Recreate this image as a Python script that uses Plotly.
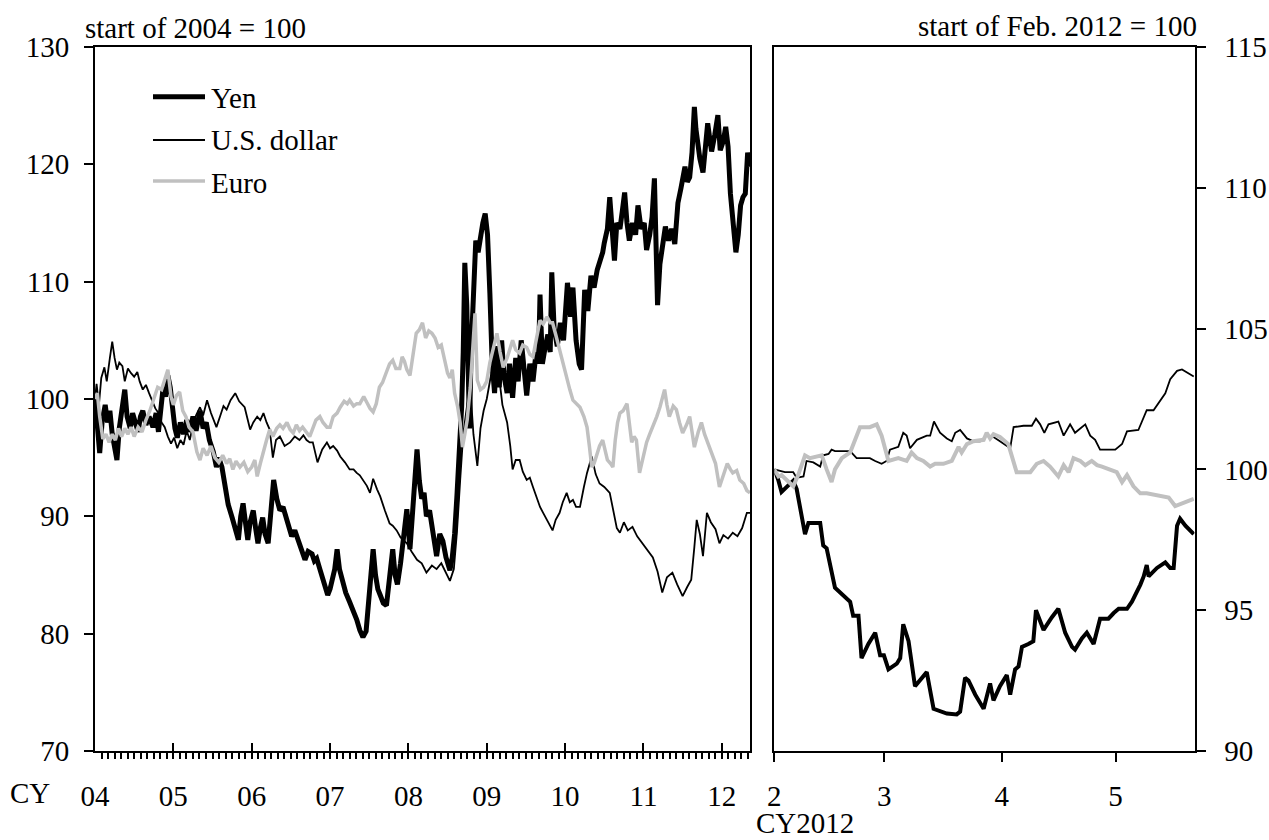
import plotly.graph_objects as go

# ---------------- data ----------------
# Left panel: x = calendar year (fractional), index: start of 2004 = 100
yen_left = [
    (2004.00, 100), (2004.03, 97.5), (2004.06, 95.4), (2004.09, 98), (2004.13, 99.5), (2004.16, 98),
    (2004.19, 99), (2004.22, 97), (2004.25, 96), (2004.28, 94.8), (2004.31, 97.5), (2004.35, 99.5),
    (2004.38, 100.8), (2004.41, 98.5), (2004.45, 97.5), (2004.48, 98.8), (2004.51, 98), (2004.55, 97.2),
    (2004.58, 98.5), (2004.61, 99), (2004.65, 97.8), (2004.69, 98.5), (2004.74, 97.6), (2004.78, 98.8),
    (2004.81, 97.2), (2004.84, 99.5), (2004.87, 101), (2004.90, 100.2), (2004.93, 102), (2004.96, 101),
    (2004.99, 99), (2005.02, 97.5), (2005.05, 96.7), (2005.09, 98), (2005.13, 97), (2005.17, 98.2),
    (2005.21, 97.2), (2005.25, 98.5), (2005.29, 97.3), (2005.34, 99), (2005.38, 97.5), (2005.42, 98),
    (2005.46, 96.5), (2005.51, 95.5), (2005.55, 94.2), (2005.58, 95), (2005.62, 94.2), (2005.66, 92.5),
    (2005.70, 91), (2005.75, 89.9), (2005.79, 89), (2005.83, 88), (2005.86, 90), (2005.89, 91.1),
    (2005.92, 89.5), (2005.95, 88), (2005.98, 89.5), (2006.02, 90.5), (2006.05, 89), (2006.08, 87.7),
    (2006.11, 89), (2006.14, 89.9), (2006.17, 88.5), (2006.21, 87.7), (2006.24, 90), (2006.28, 93.1),
    (2006.32, 91.5), (2006.36, 90.5), (2006.40, 90.8), (2006.45, 89.7), (2006.48, 89), (2006.51, 88.3),
    (2006.55, 88.8), (2006.59, 88), (2006.63, 87.5), (2006.68, 86.3), (2006.72, 87), (2006.77, 86.8),
    (2006.80, 86.2), (2006.83, 86.4), (2006.87, 85.5), (2006.91, 84.5), (2006.94, 83.8), (2006.97, 83.3),
    (2007.00, 83.8), (2007.03, 84.5), (2007.06, 85.5), (2007.09, 87.2), (2007.12, 85.5), (2007.16, 84.5),
    (2007.20, 83.5), (2007.25, 82.7), (2007.30, 82), (2007.34, 81.2), (2007.38, 80.3), (2007.42, 79.7),
    (2007.46, 80.2), (2007.49, 82.4), (2007.52, 84), (2007.55, 87.2), (2007.58, 85), (2007.61, 83.8),
    (2007.64, 83.3), (2007.68, 82.6), (2007.72, 82.4), (2007.76, 84.5), (2007.80, 87.2), (2007.83, 85),
    (2007.86, 84.2), (2007.90, 86), (2007.94, 88.5), (2007.98, 90.6), (2008.02, 87.2), (2008.06, 91),
    (2008.09, 93), (2008.11, 95.7), (2008.14, 93), (2008.17, 91.5), (2008.20, 92), (2008.23, 90),
    (2008.27, 90.5), (2008.30, 89.3), (2008.33, 88), (2008.36, 86.6), (2008.40, 88.5), (2008.44, 87.9),
    (2008.48, 86.5), (2008.53, 85.4), (2008.56, 86.5), (2008.59, 88.5), (2008.62, 91.8), (2008.66, 96),
    (2008.68, 99.4), (2008.70, 104), (2008.72, 111.6), (2008.745, 108), (2008.76, 103), (2008.78, 97.5),
    (2008.80, 104), (2008.83, 110), (2008.86, 113.5), (2008.89, 112.5), (2008.92, 114), (2008.95, 115),
    (2008.98, 115.8), (2009.01, 114), (2009.04, 109), (2009.07, 103), (2009.10, 100.5), (2009.13, 104.5),
    (2009.16, 101), (2009.19, 105), (2009.22, 102), (2009.26, 100.5), (2009.29, 103), (2009.33, 100.1),
    (2009.37, 103.5), (2009.40, 101.5), (2009.44, 105), (2009.48, 102), (2009.51, 100.3), (2009.55, 103),
    (2009.59, 101.5), (2009.63, 104), (2009.66, 103), (2009.68, 108.9), (2009.71, 103), (2009.74, 104.2),
    (2009.78, 105.5), (2009.81, 104), (2009.83, 110.8), (2009.86, 106), (2009.90, 104.5), (2009.94, 106.5),
    (2009.98, 105), (2010.03, 109.9), (2010.07, 107), (2010.10, 109.5), (2010.14, 105), (2010.18, 103),
    (2010.21, 102.5), (2010.25, 109.3), (2010.29, 107.5), (2010.33, 110.5), (2010.37, 109.5), (2010.41, 111),
    (2010.44, 111.6), (2010.48, 112.5), (2010.50, 113.3), (2010.54, 114.5), (2010.57, 117.2), (2010.60, 114),
    (2010.63, 111.8), (2010.66, 115), (2010.70, 114.5), (2010.73, 116), (2010.76, 117.6), (2010.79, 115),
    (2010.82, 113.5), (2010.86, 115), (2010.90, 114), (2010.93, 116.5), (2010.97, 114.5), (2011.01, 115),
    (2011.04, 112.7), (2011.08, 114), (2011.11, 115.5), (2011.14, 118.8), (2011.16, 113), (2011.18, 108),
    (2011.21, 111.5), (2011.24, 113), (2011.28, 114.7), (2011.32, 113.5), (2011.36, 114.5), (2011.40, 113.2),
    (2011.44, 116.7), (2011.48, 118), (2011.53, 119.8), (2011.56, 118.5), (2011.59, 118.9), (2011.62, 121),
    (2011.65, 124.9), (2011.67, 123), (2011.69, 121.8), (2011.72, 120.5), (2011.76, 119.3), (2011.79, 121.5),
    (2011.82, 123.5), (2011.85, 122), (2011.87, 121.1), (2011.91, 122.5), (2011.95, 124.2), (2011.98, 121.2),
    (2012.02, 122), (2012.05, 123.2), (2012.08, 121.5), (2012.11, 117.5), (2012.14, 115), (2012.18, 112.5),
    (2012.21, 114), (2012.24, 116.5), (2012.27, 117.2), (2012.30, 117.5), (2012.33, 121), (2012.36, 119.8),
]

usd_left = [
    (2004.00, 100), (2004.02, 101.3), (2004.05, 99.5), (2004.08, 101.8), (2004.12, 102.7), (2004.15, 101.5),
    (2004.19, 103.5), (2004.22, 104.9), (2004.25, 103.5), (2004.28, 102.5), (2004.31, 103.1), (2004.35, 102.8),
    (2004.38, 101.5), (2004.42, 102.6), (2004.46, 102.2), (2004.50, 101.9), (2004.54, 102.3), (2004.57, 101.5),
    (2004.61, 100.8), (2004.65, 101.2), (2004.69, 100.5), (2004.73, 99.9), (2004.77, 99.2), (2004.81, 98.8),
    (2004.85, 98), (2004.89, 97.6), (2004.93, 96.8), (2004.97, 96.2), (2005.01, 96.7), (2005.05, 95.8),
    (2005.09, 96.5), (2005.13, 96.1), (2005.17, 97.3), (2005.21, 96.5), (2005.25, 97.8), (2005.29, 98.6),
    (2005.34, 99.3), (2005.38, 98.6), (2005.43, 99.9), (2005.48, 98.8), (2005.55, 97.6), (2005.60, 98.6),
    (2005.64, 99.4), (2005.68, 99.1), (2005.73, 99.9), (2005.79, 100.5), (2005.84, 99.8), (2005.91, 99.3),
    (2005.95, 98.3), (2005.98, 97.4), (2006.02, 98), (2006.07, 98.5), (2006.11, 98.2), (2006.15, 98.8),
    (2006.19, 98), (2006.23, 97.4), (2006.27, 95), (2006.31, 96.5), (2006.36, 96.8), (2006.42, 96),
    (2006.49, 96.3), (2006.55, 96.8), (2006.61, 96.5), (2006.66, 96.9), (2006.70, 96.5), (2006.74, 96.3),
    (2006.78, 96.3), (2006.84, 94.6), (2006.90, 95.7), (2006.96, 96.3), (2007.00, 95.8), (2007.04, 96),
    (2007.09, 95.6), (2007.13, 95.1), (2007.19, 94.6), (2007.25, 94), (2007.30, 94), (2007.34, 93.7),
    (2007.38, 93.5), (2007.42, 93.1), (2007.47, 92.6), (2007.51, 92), (2007.55, 93.2), (2007.60, 92.3),
    (2007.64, 91.7), (2007.70, 90.5), (2007.76, 89.4), (2007.80, 89.2), (2007.85, 88.8), (2007.90, 88.2),
    (2007.98, 87.7), (2008.04, 87), (2008.11, 86.3), (2008.17, 86), (2008.23, 85.2), (2008.30, 85.8),
    (2008.36, 85.5), (2008.42, 86), (2008.48, 85.2), (2008.53, 84.5), (2008.58, 85.5), (2008.62, 88.7),
    (2008.66, 93), (2008.70, 97), (2008.75, 99.5), (2008.79, 101), (2008.83, 97), (2008.88, 94.3),
    (2008.92, 97.5), (2008.96, 99), (2009.00, 100), (2009.04, 101.5), (2009.08, 103), (2009.12, 104),
    (2009.16, 101.5), (2009.20, 99.5), (2009.26, 98), (2009.30, 96), (2009.33, 94), (2009.37, 94.8),
    (2009.42, 94.8), (2009.46, 93.8), (2009.51, 93.1), (2009.55, 93.3), (2009.59, 92.5), (2009.64, 91.5),
    (2009.68, 90.8), (2009.72, 90.3), (2009.77, 89.7), (2009.80, 89.3), (2009.84, 88.8), (2009.88, 89.7),
    (2009.93, 90.3), (2009.97, 91.2), (2010.02, 92), (2010.06, 91.2), (2010.10, 91.4), (2010.14, 90.8),
    (2010.19, 90.8), (2010.24, 92.5), (2010.28, 93.7), (2010.34, 95.1), (2010.39, 93.6), (2010.44, 92.8),
    (2010.50, 92.5), (2010.57, 92), (2010.62, 90.2), (2010.66, 89), (2010.70, 88.6), (2010.75, 89.5),
    (2010.80, 88.8), (2010.86, 89.1), (2010.92, 88.3), (2010.99, 87.7), (2011.05, 87.2), (2011.12, 86.5),
    (2011.18, 85.3), (2011.24, 83.5), (2011.30, 84.8), (2011.37, 85.2), (2011.43, 84.2), (2011.50, 83.2),
    (2011.56, 84), (2011.61, 84.6), (2011.65, 87.4), (2011.68, 89.7), (2011.72, 88.5), (2011.76, 86.6),
    (2011.81, 90.3), (2011.86, 89.5), (2011.92, 88.9), (2011.97, 87.7), (2012.02, 88.4), (2012.08, 88.1),
    (2012.14, 88.6), (2012.20, 88.3), (2012.26, 89), (2012.32, 90.3), (2012.36, 90.3),
]

euro_left = [
    (2004.00, 100), (2004.03, 100.5), (2004.06, 98.5), (2004.10, 96.6), (2004.14, 97), (2004.18, 96.3),
    (2004.22, 97), (2004.26, 96.5), (2004.30, 97.5), (2004.34, 96.8), (2004.38, 97.5), (2004.42, 97),
    (2004.46, 97.6), (2004.50, 96.8), (2004.55, 97.6), (2004.60, 97.2), (2004.65, 98.2), (2004.70, 99),
    (2004.75, 100), (2004.80, 101), (2004.85, 100.8), (2004.90, 101.8), (2004.93, 102.5), (2004.97, 100.2),
    (2005.00, 99.5), (2005.04, 100.3), (2005.08, 100.6), (2005.12, 99), (2005.16, 98.5), (2005.20, 97.6),
    (2005.25, 97.2), (2005.30, 95.5), (2005.34, 94.8), (2005.38, 95.8), (2005.43, 95.2), (2005.48, 96),
    (2005.53, 95), (2005.58, 94.6), (2005.63, 95.2), (2005.68, 94.5), (2005.72, 94.9), (2005.76, 94),
    (2005.80, 94.7), (2005.85, 94.2), (2005.90, 94.6), (2005.95, 93.8), (2006.00, 94.2), (2006.04, 94.8),
    (2006.07, 93.4), (2006.11, 94.5), (2006.15, 95.6), (2006.19, 96.5), (2006.23, 97.4), (2006.27, 96.8),
    (2006.32, 97.5), (2006.36, 97.8), (2006.40, 97.5), (2006.45, 98), (2006.49, 97.4), (2006.53, 97.1),
    (2006.57, 97.8), (2006.61, 97.3), (2006.65, 97.6), (2006.70, 97.2), (2006.74, 96.8), (2006.78, 97.5),
    (2006.82, 98.2), (2006.87, 98.5), (2006.91, 98), (2006.96, 97.6), (2007.00, 97.6), (2007.04, 98.5),
    (2007.09, 98.8), (2007.13, 99.3), (2007.18, 99.8), (2007.22, 99.6), (2007.25, 99.9), (2007.30, 99.4),
    (2007.34, 99.6), (2007.38, 99.6), (2007.43, 100.2), (2007.47, 99.7), (2007.51, 99.2), (2007.55, 98.9),
    (2007.59, 99.6), (2007.63, 101), (2007.67, 101.4), (2007.72, 102.3), (2007.76, 103), (2007.80, 103.3),
    (2007.84, 102.6), (2007.89, 102.6), (2007.92, 103.6), (2007.95, 103.2), (2007.98, 102.5), (2008.02, 102),
    (2008.06, 104), (2008.10, 105.6), (2008.14, 105.9), (2008.18, 106.5), (2008.22, 105.2), (2008.26, 105.8),
    (2008.30, 105.6), (2008.34, 105.2), (2008.38, 104.4), (2008.42, 104.6), (2008.46, 103.4), (2008.50, 102.2),
    (2008.53, 101.8), (2008.56, 102.5), (2008.59, 100.5), (2008.63, 99.3), (2008.66, 98), (2008.69, 95.9),
    (2008.72, 97), (2008.75, 98.2), (2008.79, 101), (2008.82, 104), (2008.85, 107.3), (2008.88, 101.6),
    (2008.92, 100.8), (2008.96, 101), (2009.00, 101.5), (2009.04, 103.1), (2009.08, 104.2), (2009.13, 105.6),
    (2009.17, 104), (2009.21, 102.7), (2009.26, 103.5), (2009.30, 104.4), (2009.33, 105), (2009.37, 104.2),
    (2009.42, 103.9), (2009.46, 104.6), (2009.51, 104.4), (2009.55, 103.8), (2009.59, 103.6), (2009.63, 105),
    (2009.68, 106.7), (2009.72, 106.4), (2009.77, 107), (2009.81, 106.5), (2009.84, 106.5), (2009.88, 105.5),
    (2009.93, 104.2), (2009.97, 103), (2010.02, 101.6), (2010.06, 100.8), (2010.10, 99.9), (2010.15, 99.6),
    (2010.19, 99.3), (2010.24, 98.5), (2010.28, 97.6), (2010.31, 96), (2010.34, 94.2), (2010.37, 94.5),
    (2010.40, 95.1), (2010.44, 96), (2010.48, 96.5), (2010.51, 95.5), (2010.54, 94.8), (2010.58, 94.5),
    (2010.61, 94.2), (2010.64, 96.5), (2010.67, 98), (2010.70, 98.8), (2010.74, 99), (2010.79, 99.6),
    (2010.82, 97.8), (2010.85, 96.3), (2010.88, 96.8), (2010.91, 96.5), (2010.95, 93.7), (2010.99, 95),
    (2011.04, 96.3), (2011.08, 97), (2011.12, 97.6), (2011.17, 98.5), (2011.21, 99.3), (2011.27, 100.8),
    (2011.30, 99.5), (2011.33, 98.5), (2011.38, 99.4), (2011.42, 99.1), (2011.46, 98), (2011.50, 97.1),
    (2011.55, 97.8), (2011.59, 98.5), (2011.62, 97.2), (2011.65, 95.9), (2011.70, 97.2), (2011.74, 98),
    (2011.78, 97), (2011.82, 96.3), (2011.88, 95.4), (2011.92, 94.5), (2011.97, 92.5), (2012.02, 93.5),
    (2012.07, 94.5), (2012.11, 94), (2012.14, 93.7), (2012.19, 93.9), (2012.23, 93.1), (2012.28, 92.8),
    (2012.32, 92.2), (2012.36, 92),
]

# Right panel: x = days since 1 Feb 2012, index: start of Feb. 2012 = 100
yen_right = [
    (0, 100), (1.1, 99.6), (1.9, 99.2), (3.3, 99.4), (5.0, 99.6), (5.9, 99.3), (7.2, 98.4), (8.1, 97.7),
    (9.0, 98.1), (12.1, 98.1), (12.9, 97.3), (13.8, 97.2), (16.0, 95.8), (18.2, 95.5), (20.0, 95.3),
    (20.8, 94.8), (22.2, 94.8), (23.0, 93.3), (24.8, 93.8), (26.6, 94.2), (27.9, 93.4), (28.9, 93.4),
    (30.1, 92.9), (32.3, 93.1), (33.2, 93.3), (34.0, 94.5), (35.4, 93.9), (37.1, 92.3), (38.9, 92.6),
    (40.2, 92.8), (42.0, 91.5), (43.7, 91.4), (45.5, 91.33), (48.1, 91.3), (49.0, 91.4), (50.3, 92.6),
    (51.2, 92.5), (53.0, 92.0), (55.2, 91.5), (56.9, 92.4), (57.8, 91.8), (59.5, 92.3), (61.3, 92.7),
    (62.2, 92.0), (63.5, 92.9), (64.4, 93.0), (65.3, 93.7), (67.0, 93.8), (68.3, 93.9), (69.0, 95.0),
    (71.0, 94.3), (73.2, 94.75), (74.9, 95.05), (76.7, 94.2), (78.5, 93.7), (79.3, 93.6), (81.1, 94.0),
    (82.4, 94.2), (84.2, 93.8), (85.9, 94.7), (88.1, 94.7), (89.5, 94.9), (90.8, 95.05), (93.0, 95.05),
    (94.3, 95.3), (96.5, 95.9), (97.4, 96.2), (98.2, 96.6), (98.7, 96.2), (100.9, 96.5), (103.1, 96.7),
    (104.4, 96.5), (105.3, 96.5), (106.2, 98.0), (107.0, 98.25), (108.4, 98.0), (110.6, 97.7),
]

usd_right = [
    (0, 100), (1.5, 99.95), (2.8, 99.9), (5.0, 99.9), (5.9, 99.7), (7.7, 99.75), (8.5, 100.3),
    (10.3, 100.25), (12.1, 100.1), (12.9, 100.5), (14.3, 100.55), (15.1, 100.7), (16.0, 100.65),
    (20.0, 100.65), (21.7, 100.4), (22.6, 100.4), (25.2, 100.4), (26.6, 100.3), (28.3, 100.2),
    (29.6, 100.3), (30.5, 100.7), (32.7, 100.8), (34.0, 101.3), (34.9, 101.2), (35.8, 100.75),
    (37.6, 101.05), (40.2, 101.2), (41.1, 101.2), (42.1, 101.7), (43.7, 101.3), (45.5, 101.1),
    (46.8, 101.0), (47.7, 101.3), (49.0, 101.4), (50.8, 101.1), (52.5, 101.0), (54.3, 101.0),
    (56.0, 101.2), (57.8, 101.15), (59.5, 101.0), (62.2, 100.75), (63.1, 101.5), (65.7, 101.55),
    (67.9, 101.55), (69.0, 101.8), (70.1, 101.6), (71.2, 101.3), (72.3, 101.6), (74.9, 101.7),
    (76.3, 101.2), (78.0, 101.6), (79.3, 101.3), (82.0, 101.6), (83.3, 101.2), (84.6, 101.05),
    (85.9, 100.7), (89.9, 100.7), (91.7, 100.9), (93.0, 101.35), (96.0, 101.4), (98.2, 102.1),
    (100.0, 102.1), (103.1, 102.7), (104.4, 103.2), (106.2, 103.5), (107.5, 103.55), (109.2, 103.4),
    (110.6, 103.3),
]

euro_right = [
    (0, 100), (1.1, 99.75), (1.9, 99.8), (3.3, 99.6), (5.0, 99.4), (6.3, 99.8), (8.1, 100.5),
    (9.4, 100.4), (12.5, 100.5), (13.8, 100.0), (15.1, 99.55), (16.0, 100.0), (17.8, 100.4),
    (20.0, 100.6), (22.6, 101.5), (25.2, 101.5), (27.0, 101.6), (28.3, 101.2), (30.1, 100.3),
    (32.7, 100.4), (34.9, 100.3), (36.2, 100.6), (37.6, 100.4), (39.3, 100.3), (41.1, 100.1),
    (42.4, 100.2), (44.6, 100.2), (46.8, 100.3), (48.6, 100.8), (49.4, 100.6), (50.8, 100.9),
    (52.5, 101.0), (55.2, 101.05), (56.0, 101.3), (56.9, 101.1), (57.8, 101.25), (59.5, 101.15),
    (61.7, 100.9), (63.1, 100.3), (63.9, 99.9), (67.5, 99.9), (69.2, 100.2), (71.0, 100.3),
    (72.7, 100.1), (74.9, 99.75), (76.3, 100.15), (77.6, 99.9), (78.9, 100.4), (80.7, 100.3),
    (82.0, 100.15), (83.7, 100.3), (85.1, 100.15), (86.4, 100.1), (88.1, 100.0), (90.3, 99.9),
    (91.7, 99.55), (93.0, 99.8), (94.7, 99.4), (96.5, 99.15), (98.2, 99.15), (100.0, 99.1),
    (101.8, 99.05), (104.0, 99.0), (105.7, 98.7), (107.5, 98.8), (110.6, 98.95),
]

year_ticks = [2004, 2005, 2006, 2007, 2008, 2009, 2010, 2011, 2012]
year_labels = ["04", "05", "06", "07", "08", "09", "10", "11", "12"]
month_ticks = [0, 29, 60, 90]          # 1 Feb, 1 Mar, 1 Apr, 1 May 2012
month_labels = ["2", "3", "4", "5"]
series_names = ["Yen", "U.S. dollar", "Euro"]

# ---------------- styling ----------------
W, H = 1269, 840
def px(x):
    return x / W
def py(y):
    return 1 - y / H

FONT = "Liberation Serif, Times New Roman, serif"
FS = 29
BLACK = "#000000"
GREY = "#C0C0C0"

left_styles = [dict(color=BLACK, width=5), dict(color=BLACK, width=1.8), dict(color=GREY, width=3.5)]
right_styles = [dict(color=BLACK, width=4.0), dict(color=BLACK, width=1.8), dict(color=GREY, width=4.0)]

fig = go.Figure()
for name, data, st in zip(series_names, [yen_left, usd_left, euro_left], left_styles):
    xs, ys = zip(*data)
    fig.add_trace(go.Scatter(x=list(xs), y=list(ys), mode="lines", name=name, line=st,
                             xaxis="x", yaxis="y", showlegend=False, hoverinfo="skip"))
for name, data, st in zip(series_names, [yen_right, usd_right, euro_right], right_styles):
    xs, ys = zip(*data)
    fig.add_trace(go.Scatter(x=list(xs), y=list(ys), mode="lines", name=name, line=st,
                             xaxis="x2", yaxis="y2", showlegend=False, hoverinfo="skip"))

tickfont = dict(family=FONT, size=FS, color=BLACK)
common = dict(showline=True, mirror=True, linecolor=BLACK, linewidth=2, showgrid=False,
              zeroline=False, tickcolor=BLACK, tickwidth=2, tickfont=tickfont, automargin=False)

ydom = [py(751), py(47)]
fig.update_layout(
    width=W, height=H,
    margin=dict(l=0, r=0, t=0, b=0, autoexpand=False),
    paper_bgcolor="white", plot_bgcolor="white",
    showlegend=False,
    xaxis=dict(domain=[px(95), px(750)], range=[2004, 2012.36], anchor="y",
               tickmode="array", tickvals=year_ticks, ticktext=year_labels,
               ticks="inside", ticklen=8, ticklabelstandoff=18,
               minor=dict(tick0=2004, dtick=1 / 12, ticks="outside", ticklen=6,
                          tickwidth=1.5, tickcolor=BLACK, showgrid=False),
               **common),
    yaxis=dict(domain=ydom, range=[70, 130], anchor="x", tickmode="linear", tick0=70, dtick=10,
               ticks="outside", ticklen=9, ticklabelstandoff=9, **common),
    xaxis2=dict(domain=[px(774.3), px(1194.5)], range=[0, 110.8], anchor="y2",
                tickmode="array", tickvals=month_ticks, ticktext=month_labels,
                ticks="outside", ticklen=9, ticklabelstandoff=9, **common),
    yaxis2=dict(domain=ydom, range=[90, 115], anchor="x2", side="right", tickmode="linear",
                tick0=90, dtick=5, ticks="outside", ticklen=9, ticklabelstandoff=13, **common),
)

ann_font = dict(family=FONT, size=FS, color=BLACK)
annotations = [
    dict(text="start of 2004 = 100", x=px(83), y=py(27.8), xanchor="left", yanchor="middle"),
    dict(text="start of Feb. 2012 = 100", x=px(1199), y=py(25.5), xanchor="right", yanchor="middle"),
    dict(text="CY", x=px(8), y=py(793.3), xanchor="left", yanchor="middle"),
    dict(text="CY2012", x=px(755), y=0, xanchor="left", yanchor="bottom", borderpad=0),
]
# legend (drawn inside the left panel)
leg_y_line = [96.7, 140, 181]
leg_y_text = [98.2, 140.5, 183]
shapes = []
for name, st, yl, yt in zip(series_names, left_styles, leg_y_line, leg_y_text):
    shapes.append(dict(type="line", xref="paper", yref="paper", x0=px(153), x1=px(205),
                       y0=py(yl), y1=py(yl), line=dict(color=st["color"], width=st["width"])))
    annotations.append(dict(text=name, x=px(209), y=py(yt), xanchor="left", yanchor="middle"))
for a in annotations:
    a.update(xref="paper", yref="paper", showarrow=False, font=ann_font)
fig.update_layout(annotations=annotations, shapes=shapes)

# the page's default 8px body margin would shift the whole figure; remove it
fig.write_html("out.html", config={"displayModeBar": False},
               post_script="document.body.style.margin='0';document.body.style.overflow='hidden';")
